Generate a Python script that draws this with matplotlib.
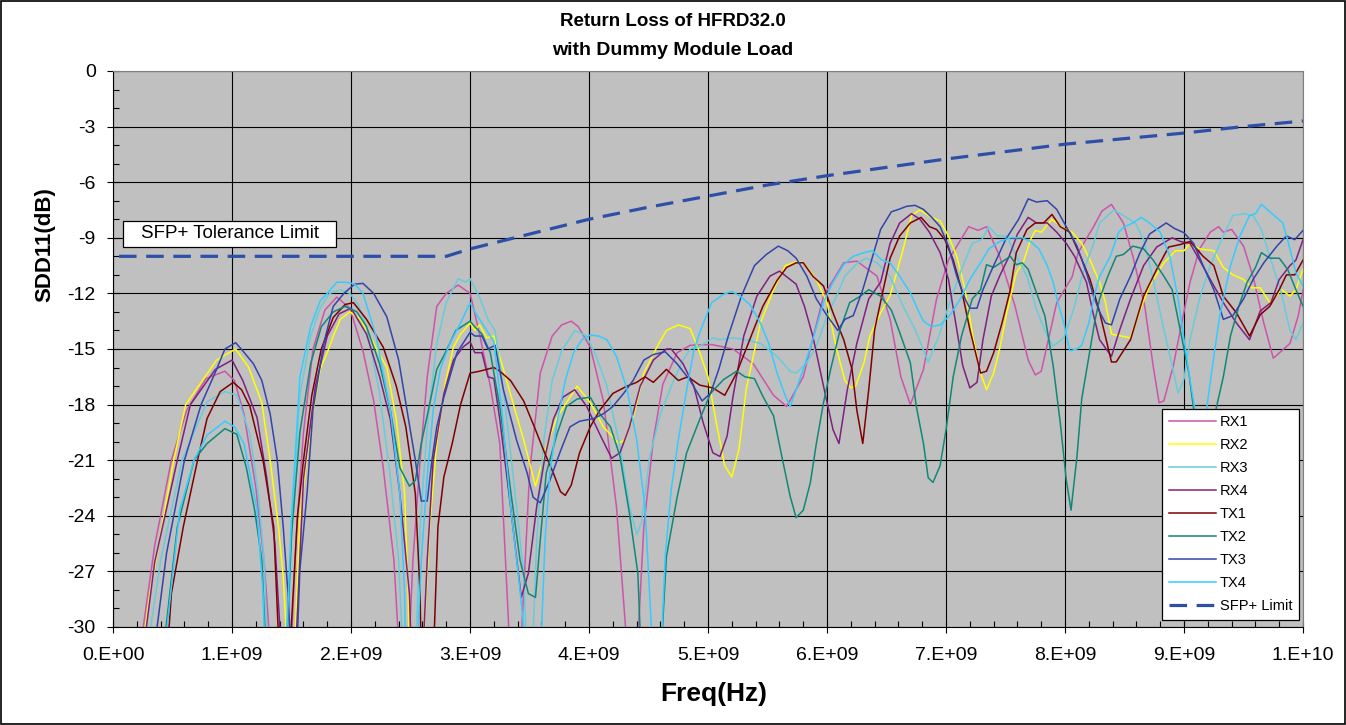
import numpy as np
import matplotlib.pyplot as plt
from matplotlib.patches import Rectangle
from matplotlib.ticker import MultipleLocator, FuncFormatter

plt.rcParams['font.family'] = ['Liberation Sans', 'DejaVu Sans']
plt.rcParams['axes.unicode_minus'] = False

# frequencies in GHz, return loss in dB (values below -30 run off the axis)
rx1_f = [0.21, 0.35, 0.49, 0.62, 0.78, 0.94, 1.02, 1.1, 1.2, 1.27, 1.33,
         1.49, 1.54, 1.6, 1.68, 1.78, 1.88, 1.99, 2.10, 2.19, 2.27, 2.36, 2.41,
         2.48, 2.52, 2.58, 2.64, 2.72, 2.80, 2.90, 3.0, 3.08, 3.17, 3.25, 3.34,
         3.42, 3.50, 3.59, 3.69, 3.77, 3.85, 3.91, 4.01, 4.12, 4.23, 4.33, 4.40, 4.46, 4.54,
         4.62, 4.74, 4.85, 5.03, 5.21, 5.38, 5.55, 5.66, 5.80, 5.97, 6.14, 6.25, 6.42, 6.53,
         6.62, 6.70, 6.81, 6.92, 7.02, 7.19, 7.27, 7.34, 7.45, 7.58, 7.69, 7.75, 7.80, 7.93,
         8.06, 8.11, 8.24, 8.31, 8.39, 8.49, 8.57, 8.67, 8.74, 8.79, 8.83, 8.91, 8.98, 9.05,
         9.13, 9.22, 9.29, 9.33, 9.40, 9.50, 9.58, 9.67, 9.75, 9.89, 9.96, 10.0]
rx1_db = [-32, -25.6, -21, -18.3, -16.6, -16.2, -16.7, -18.5, -22.5, -26.5, -32,
          -32, -25, -19.5, -15, -12.9, -12.2, -12.8, -15.1, -17.8, -21.4, -26.4, -32,
          -32, -26.4, -21, -16.5, -12.7, -12.0, -11.55, -12.0, -14.2, -17.0, -20.1, -32,
          -32, -21.7, -16.3, -14.3, -13.7, -13.5, -13.8, -14.9, -17.8, -23.5, -32, -32, -24.6, -19.9,
          -16.9, -15.2, -14.8, -14.76, -15.0, -15.8, -17.5, -18.1, -16.5, -12.15, -10.35, -10.26, -11.07, -13.4,
          -16.5, -18.0, -16.1, -12.3, -10.2, -8.4, -8.6, -8.4, -10.0, -12.7, -15.6, -16.4, -16.2, -12.5,
          -11.1, -9.8, -8.4, -7.56, -7.2, -8.2, -10.0, -12.7, -15.9, -17.9, -17.8, -15.9, -13.6, -11.4,
          -9.6, -8.7, -8.4, -8.7, -8.55, -9.45, -11.1, -13.6, -15.5, -14.7, -13.2, -11.8]

rx2_f = [0.23, 0.31, 0.51, 0.61, 0.73, 0.87, 1.03, 1.14, 1.25, 1.32, 1.39, 1.43, 1.47,
         1.52, 1.57, 1.66, 1.74, 1.80, 1.85, 1.91, 1.99, 2.08, 2.19, 2.30, 2.38, 2.45, 2.48, 2.49,
         2.60, 2.66, 2.72, 2.79, 2.86, 2.92, 3.0, 3.04, 3.08, 3.14, 3.2, 3.28, 3.45, 3.55, 3.64,
         3.73, 3.90, 4.01, 4.12, 4.25, 4.30, 4.37, 4.46, 4.57, 4.65, 4.75, 4.85, 4.93, 5.0, 5.07,
         5.14, 5.2, 5.26, 5.32, 5.44, 5.55, 5.65, 5.74, 5.80, 5.91, 6.0, 6.08, 6.15, 6.2, 6.24,
         6.31, 6.36, 6.45, 6.53, 6.58, 6.64, 6.71, 6.78, 6.85, 6.95, 7.02, 7.09, 7.16, 7.23, 7.29,
         7.34, 7.40, 7.45, 7.51, 7.59, 7.65, 7.71, 7.75, 7.80, 7.89, 7.99, 8.06, 8.14, 8.21, 8.29,
         8.34, 8.39, 8.55, 8.63, 8.71, 8.83, 8.93, 9.0, 9.05, 9.13, 9.25, 9.33, 9.41, 9.50, 9.57,
         9.64, 9.72, 9.82, 9.89, 9.94, 10.0]
rx2_db = [-32, -28.2, -21, -18, -16.9, -15.6, -15.0, -16.0, -17.9, -21, -24.6, -27.3, -32,
          -32, -24.1, -19.2, -16.1, -15.2, -14.3, -13.4, -13.0, -13.4, -14.7, -16.0, -18.8, -22.8, -28.2, -32,
          -32, -24.6, -20.1, -16.9, -14.9, -14.2, -13.6, -14.0, -13.7, -14.4, -14.3, -16.1, -19.9, -22.4, -20.3,
          -18.7, -17.0, -17.9, -19.2, -20.1, -19.9, -18.7, -16.3, -14.9, -14.0, -13.7, -13.9, -15.2, -16.5, -19.0,
          -21.3, -21.9, -20.4, -17.2, -13.6, -11.8, -10.5, -10.3, -10.35, -11.25, -12.5, -15.0, -16.7, -17.1, -17.0,
          -15.75, -14.3, -13.05, -12.1, -11.0, -9.6, -7.8, -7.5, -7.8, -8.1, -8.9, -10.0, -11.8, -14.5, -16.3,
          -17.2, -16.3, -15.0, -13.05, -10.9, -10.3, -9.1, -8.6, -8.7, -8.0, -8.5, -8.7, -9.3, -10.2, -11.4,
          -12.5, -14.2, -14.4, -12.9, -11.6, -10.35, -9.7, -9.7, -9.3, -9.6, -9.7, -10.6, -11.0, -11.25, -11.7,
          -11.7, -12.5, -11.8, -12.15, -11.8, -10.7]

rx3_f = [0.27, 0.4, 0.58, 0.79, 0.94, 1.04, 1.15, 1.22, 1.27, 1.30,
         1.46, 1.5, 1.57, 1.66, 1.74, 1.82, 1.91, 1.99, 2.06, 2.13, 2.24, 2.33, 2.40, 2.44,
         2.54, 2.58, 2.64, 2.72, 2.80, 2.90, 2.96, 3.0, 3.08, 3.15, 3.21, 3.28, 3.36, 3.45, 3.48,
         3.52, 3.56, 3.62, 3.69, 3.77, 3.88, 3.98, 4.06, 4.15, 4.26, 4.34, 4.40, 4.44, 4.51, 4.60,
         4.71, 4.79, 4.85, 4.93, 5.04, 5.1, 5.21, 5.32, 5.44, 5.58, 5.69, 5.74, 5.83, 5.91, 6.0,
         6.08, 6.15, 6.25, 6.33, 6.42, 6.53, 6.64, 6.74, 6.85, 6.94, 7.03, 7.13, 7.22, 7.30, 7.36,
         7.43, 7.51, 7.59, 7.68, 7.76, 7.85, 7.90, 7.99, 8.07, 8.15, 8.24, 8.29, 8.41, 8.49, 8.59,
         8.66, 8.74, 8.83, 8.90, 8.95, 9.0, 9.05, 9.13, 9.22, 9.33, 9.41, 9.50, 9.58, 9.65, 9.72,
         9.81, 9.89, 9.94, 10.0]
rx3_db = [-32, -26.4, -21, -17.85, -17.3, -17.5, -19.6, -22.8, -26.4, -32,
          -32, -25, -17.5, -14.3, -12.8, -12.0, -11.8, -12.0, -12.6, -13.8, -17.4, -21.9, -26.4, -32,
          -32, -24.6, -19.2, -14.7, -12.5, -11.2, -11.4, -11.2, -12.2, -13.4, -14.0, -17.2, -21.7, -27.1, -32,
          -32, -25.3, -19.9, -16.7, -15.1, -14.0, -14.3, -15.4, -17.0, -20.3, -23.5, -25.0, -24.4, -20.8, -18.5,
          -16.7, -15.6, -15.0, -14.85, -14.4, -14.5, -14.4, -14.5, -14.7, -15.4, -16.2, -16.3, -15.75, -14.85, -13.2,
          -12.15, -11.07, -10.4, -10.1, -10.35, -11.1, -12.7, -13.95, -15.7, -14.3, -12.5, -10.7, -9.3, -9.1, -8.4,
          -8.9, -8.9, -10.0, -11.07, -12.9, -14.3, -14.85, -14.4, -12.9, -10.9, -9.3, -8.2, -7.5, -7.8, -8.2,
          -9.1, -11.25, -13.95, -15.9, -17.4, -16.6, -14.5, -12.3, -10.5, -8.9, -7.8, -7.7, -7.8, -8.55, -10.0,
          -11.8, -14.0, -14.5, -13.6]

rx4_f = [0.24, 0.35, 0.54, 0.65, 0.86, 1.0, 1.09, 1.21, 1.29, 1.36, 1.42,
         1.53, 1.6, 1.7, 1.8, 1.9, 2.0, 2.13, 2.24, 2.33, 2.41, 2.49, 2.51,
         2.60, 2.64, 2.69, 2.78, 2.86, 2.94, 3.0, 3.04, 3.10, 3.15, 3.2, 3.25, 3.34, 3.43, 3.49,
         3.56, 3.63, 3.70, 3.78, 3.88, 3.98, 4.09, 4.19, 4.26, 4.34, 4.43, 4.54, 4.65, 4.69, 4.79,
         4.88, 4.96, 5.04, 5.1, 5.16, 5.21, 5.30, 5.41, 5.52, 5.60, 5.69, 5.74, 5.81, 5.88, 5.97,
         6.05, 6.10, 6.17, 6.25, 6.35, 6.45, 6.53, 6.61, 6.71, 6.78, 6.86, 6.95, 7.02, 7.09, 7.14,
         7.20, 7.26, 7.31, 7.38, 7.45, 7.53, 7.60, 7.69, 7.76, 7.85, 7.93, 8.01, 8.08, 8.18, 8.24,
         8.29, 8.39, 8.46, 8.55, 8.66, 8.77, 8.90, 8.97, 9.05, 9.13, 9.22, 9.33, 9.44, 9.55, 9.64,
         9.73, 9.80, 9.89, 9.94, 10.0]
rx4_db = [-32, -26.5, -21, -18, -16.1, -15.6, -16.7, -18.7, -21.9, -25.5, -32,
          -32, -22, -17, -14.3, -13.1, -12.8, -14.2, -16.5, -18.8, -22.8, -28.2, -32,
          -32, -26.4, -21, -17.4, -15.6, -14.9, -14.6, -15.2, -15.2, -16.5, -16.6, -18.8, -23.5, -28.4, -27.1,
          -23.5, -20.8, -18.8, -17.6, -17.2, -18.1, -19.6, -20.9, -20.6, -19.2, -17.0, -15.6, -15.0, -15.0, -15.8,
          -17.0, -19.0, -20.6, -20.8, -19.7, -17.55, -14.3, -12.15, -11.07, -10.8, -11.25, -11.5, -12.7, -14.3, -17.0,
          -19.35, -20.1, -17.2, -14.7, -12.3, -11.4, -9.3, -8.2, -7.7, -8.0, -8.7, -9.8, -11.25, -13.95, -15.9,
          -17.1, -16.8, -14.5, -12.15, -11.07, -10.0, -8.8, -7.9, -8.2, -8.2, -8.7, -9.3, -10.0, -11.4, -13.2,
          -14.5, -15.4, -13.95, -12.3, -10.5, -9.5, -9.0, -9.2, -9.3, -10.2, -11.25, -12.5, -13.6, -14.5, -12.95,
          -12.5, -11.25, -10.5, -10.2, -9.1]

tx1_f = [0.45, 0.49, 0.59, 0.71, 0.79, 0.9, 1.01, 1.08, 1.15, 1.26, 1.35, 1.40,
         1.48, 1.55, 1.6, 1.67, 1.75, 1.85, 1.95, 2.02, 2.13, 2.27, 2.38, 2.46, 2.54, 2.58, 2.59,
         2.69, 2.73, 2.78, 2.85, 2.92, 3.0, 3.08, 3.20, 3.25, 3.34, 3.45, 3.54, 3.62, 3.70, 3.76,
         3.80, 3.85, 3.92, 4.01, 4.09, 4.20, 4.32, 4.40, 4.47, 4.54, 4.65, 4.75, 4.83, 4.93, 5.04,
         5.14, 5.24, 5.35, 5.46, 5.58, 5.66, 5.74, 5.80, 5.88, 5.97, 6.05, 6.14, 6.21, 6.25, 6.30,
         6.35, 6.40, 6.46, 6.53, 6.61, 6.70, 6.79, 6.86, 6.92, 6.99, 7.06, 7.13, 7.20, 7.29, 7.34,
         7.40, 7.47, 7.54, 7.59, 7.68, 7.75, 7.82, 7.89, 7.96, 8.04, 8.13, 8.21, 8.29, 8.39, 8.43,
         8.55, 8.66, 8.77, 8.87, 8.97, 9.05, 9.16, 9.25, 9.33, 9.44, 9.55, 9.64, 9.72, 9.80, 9.86,
         9.93, 10.0]
tx1_db = [-32, -28.2, -24.6, -21, -18.75, -17.3, -16.8, -17.2, -18.1, -21, -24.6, -32,
          -32, -24, -21, -17.5, -15.0, -13.3, -12.6, -12.5, -13.4, -14.9, -17.0, -19.2, -22.8, -28.2, -32,
          -32, -24.6, -21.9, -20.1, -18.0, -16.3, -16.2, -16.0, -16.2, -16.7, -17.8, -19.2, -20.5, -21.7, -22.7,
          -22.9, -22.35, -20.6, -19.2, -18.3, -17.4, -17.0, -16.8, -16.5, -16.8, -16.1, -16.7, -16.5, -16.95, -17.1,
          -17.5, -16.3, -14.5, -12.7, -11.3, -10.6, -10.35, -10.35, -11.07, -11.6, -13.05, -14.5, -16.1, -18.3, -20.1,
          -17.2, -13.95, -12.15, -10.1, -8.9, -8.2, -7.9, -8.4, -8.55, -9.1, -10.2, -11.8, -13.95, -16.3, -16.2,
          -15.2, -13.6, -11.8, -9.8, -8.55, -8.2, -8.2, -7.74, -8.4, -8.7, -10.0, -11.25, -13.0, -15.7, -15.7,
          -14.5, -12.15, -10.7, -9.5, -9.36, -9.2, -10.0, -10.5, -12.15, -13.05, -14.3, -13.15, -12.7, -11.8, -11.0,
          -11.0, -10.2]

tx2_f = [0.41, 0.54, 0.68, 0.79, 0.94, 1.04, 1.12, 1.19, 1.25, 1.29,
         1.45, 1.5, 1.57, 1.66, 1.75, 1.85, 1.95, 2.05, 2.13, 2.24, 2.33, 2.41, 2.49, 2.54, 2.59,
         2.65, 2.72, 2.80, 2.88, 3.0, 3.04, 3.10, 3.17, 3.25, 3.34, 3.42, 3.49, 3.55, 3.59, 3.64,
         3.73, 3.81, 3.90, 4.01, 4.09, 4.18, 4.26, 4.34, 4.41, 4.44, 4.60, 4.65, 4.74, 4.82, 4.93,
         5.02, 5.13, 5.24, 5.31, 5.39, 5.46, 5.55, 5.62, 5.69, 5.74, 5.80, 5.86, 5.91, 5.97, 6.03,
         6.11, 6.19, 6.28, 6.35, 6.45, 6.54, 6.61, 6.70, 6.75, 6.81, 6.85, 6.89, 6.95, 7.0, 7.06,
         7.13, 7.22, 7.29, 7.34, 7.40, 7.47, 7.54, 7.59, 7.64, 7.69, 7.76, 7.83, 7.90, 7.96, 8.01,
         8.05, 8.10, 8.14, 8.20, 8.25, 8.29, 8.36, 8.43, 8.49, 8.57, 8.66, 8.74, 8.83, 8.90, 8.95,
         8.99, 9.04, 9.08, 9.17, 9.27, 9.33, 9.39, 9.46, 9.53, 9.60, 9.65, 9.72, 9.80, 9.87, 9.94,
         10.0]
tx2_db = [-32, -24.6, -21, -20.1, -19.3, -19.6, -21.4, -23.7, -26.4, -32,
          -32, -25, -19.5, -15.8, -13.8, -13.0, -12.7, -13.0, -13.8, -15.8, -18.3, -21.4, -22.4, -22.1, -20.1,
          -18.3, -16.1, -15.1, -14.0, -13.5, -13.8, -14.2, -15.2, -18.1, -22.6, -26.4, -28.2, -28.4, -25.3, -21.7,
          -19.6, -18.1, -17.7, -17.6, -18.5, -19.2, -20.8, -23.9, -27.1, -32, -32, -26.2, -23.0, -20.6, -18.8,
          -17.4, -16.65, -16.2, -16.5, -16.6, -17.55, -18.6, -20.8, -22.95, -24.1, -23.7, -22.2, -20.1, -17.9, -16.1,
          -13.95, -12.5, -12.15, -11.8, -12.15, -12.9, -14.1, -15.75, -18.1, -20.1, -21.95, -22.2, -21.3, -19.35, -16.5,
          -14.3, -12.3, -11.8, -10.45, -10.6, -10.3, -10.0, -10.45, -10.35, -10.7, -11.97, -13.2, -15.9, -19.0, -22.05,
          -23.7, -20.8, -17.7, -15.4, -13.5, -12.3, -11.07, -10.0, -9.9, -9.45, -9.6, -10.2, -11.07, -11.8, -13.4,
          -14.7, -16.3, -18.2, -22.5, -18.2, -16.5, -14.3, -12.7, -11.4, -10.6, -9.8, -10.1, -10.1, -10.7, -11.8,
          -12.7]

tx3_f = [0.33, 0.45, 0.6, 0.74, 0.87, 0.94, 1.03, 1.09, 1.18, 1.25, 1.32, 1.38, 1.43, 1.47, 1.50,
         1.54, 1.57, 1.63, 1.68, 1.77, 1.85, 1.94, 2.03, 2.10, 2.19, 2.30, 2.40, 2.47, 2.54, 2.59,
         2.64, 2.68, 2.72, 2.78, 2.83, 2.89, 2.94, 3.0, 3.04, 3.10, 3.15, 3.21, 3.28, 3.39, 3.48,
         3.53, 3.59, 3.67, 3.76, 3.84, 3.92, 4.04, 4.12, 4.20, 4.29, 4.37, 4.46, 4.54, 4.64, 4.74,
         4.85, 4.95, 5.02, 5.09, 5.17, 5.28, 5.39, 5.49, 5.59, 5.67, 5.74, 5.83, 5.91, 6.0, 6.09,
         6.15, 6.22, 6.30, 6.36, 6.45, 6.54, 6.60, 6.67, 6.74, 6.81, 6.88, 6.95, 7.02, 7.09, 7.16,
         7.20, 7.26, 7.31, 7.40, 7.50, 7.61, 7.69, 7.76, 7.85, 7.93, 8.01, 8.10, 8.18, 8.24, 8.29,
         8.34, 8.39, 8.46, 8.55, 8.63, 8.71, 8.85, 8.92, 9.0, 9.08, 9.16, 9.25, 9.33, 9.41, 9.50,
         9.58, 9.67, 9.78, 9.86, 9.93, 10.0]
tx3_db = [-32, -26, -21, -18, -16.1, -15.0, -14.66, -15.1, -15.8, -16.7, -18.5, -21, -24.6, -28.2, -32,
          -32, -26.9, -22.8, -18.3, -14.7, -12.7, -12.0, -11.5, -11.46, -12.0, -13.26, -15.6, -18.3, -21.0, -23.2,
          -23.2, -21, -19.2, -17.6, -16.5, -15.2, -14.7, -14.1, -14.3, -14.3, -15.0, -14.8, -17.2, -19.9, -21.7,
          -23.0, -23.3, -22.1, -20.5, -19.2, -18.9, -18.75, -18.5, -18.1, -17.4, -16.7, -15.6, -15.3, -15.15, -15.8,
          -16.7, -17.8, -17.4, -16.1, -14.3, -12.15, -10.5, -9.9, -9.45, -9.7, -10.1, -11.07, -12.3, -13.2, -14.0,
          -13.4, -13.2, -11.8, -10.5, -8.55, -7.6, -7.47, -7.3, -7.25, -7.47, -7.9, -8.4, -9.45, -11.07, -12.3,
          -12.8, -12.8, -11.8, -10.5, -9.1, -8.0, -6.9, -7.07, -7.0, -7.47, -8.4, -9.45, -10.9, -12.15, -13.0,
          -13.6, -13.7, -12.3, -11.07, -9.8, -8.8, -8.2, -8.5, -8.73, -9.3, -10.5, -11.8, -13.4, -13.2, -12.3,
          -11.25, -10.35, -9.45, -8.9, -9.1, -8.6]

tx4_f = [0.42, 0.56, 0.68, 0.79, 0.94, 1.02, 1.1, 1.21, 1.26, 1.28,
         1.45, 1.5, 1.57, 1.66, 1.74, 1.80, 1.88, 1.96, 2.03, 2.10, 2.21, 2.33, 2.41, 2.45, 2.46,
         2.55, 2.59, 2.64, 2.69, 2.75, 2.83, 2.92, 3.0, 3.05, 3.12, 3.20, 3.27, 3.34, 3.42, 3.48,
         3.59, 3.63, 3.67, 3.73, 3.80, 3.87, 3.94, 4.01, 4.08, 4.15, 4.23, 4.32, 4.40, 4.47, 4.54,
         4.60, 4.64, 4.69, 4.75, 4.82, 4.88, 4.93, 5.03, 5.13, 5.2, 5.27, 5.35, 5.44, 5.51, 5.58,
         5.65, 5.69, 5.74, 5.81, 5.88, 5.97, 6.05, 6.14, 6.22, 6.31, 6.38, 6.46, 6.53, 6.61, 6.70,
         6.75, 6.81, 6.88, 6.95, 7.03, 7.12, 7.20, 7.29, 7.36, 7.45, 7.54, 7.64, 7.71, 7.78, 7.85,
         7.90, 7.94, 7.99, 8.04, 8.10, 8.14, 8.20, 8.25, 8.29, 8.38, 8.45, 8.50, 8.57, 8.64, 8.71,
         8.80, 8.88, 8.95, 9.0, 9.05, 9.09, 9.14, 9.19, 9.25, 9.30, 9.39, 9.47, 9.55, 9.60, 9.65,
         9.73, 9.83, 9.89, 9.94, 10.0]
tx4_db = [-32, -23.7, -21, -19.65, -18.9, -19.2, -20.1, -23.7, -28.2, -32,
          -32, -24, -16.5, -13.8, -12.4, -12.0, -11.4, -11.4, -11.5, -12.0, -14.3, -18.3, -22.8, -28.2, -32,
          -32, -26.4, -21.9, -18.3, -16.1, -14.7, -13.6, -12.5, -13.1, -13.8, -14.6, -18.5, -23.5, -28.0, -32,
          -32, -25.3, -21.7, -19.0, -16.7, -15.2, -14.5, -14.25, -14.3, -14.5, -15.4, -17.2, -19.9, -23.5, -32,
          -32, -26.2, -22.6, -19.9, -17.2, -15.1, -14.1, -12.5, -12.05, -11.9, -12.15, -12.6, -13.6, -14.7, -16.3,
          -17.55, -18.1, -17.2, -15.9, -14.5, -12.5, -11.4, -10.45, -10.0, -9.8, -9.7, -10.2, -10.35, -11.07, -11.97,
          -12.7, -13.5, -13.8, -13.7, -13.2, -12.3, -11.25, -10.35, -9.6, -9.2, -9.0, -9.0, -9.2, -9.6, -10.5,
          -11.4, -12.5, -13.6, -15.1, -15.0, -14.8, -13.6, -12.0, -11.1, -10.0, -8.7, -8.4, -8.2, -7.9, -8.2,
          -8.7, -10.0, -12.3, -14.5, -16.65, -18.2, -21.0, -18.2, -15.4, -13.2, -10.5, -8.9, -7.8, -7.7, -7.2,
          -7.65, -8.2, -9.6, -10.9, -11.6]

lim_f = [0.05, 2.8, 3.0, 3.5, 4.0, 4.5, 5.0, 5.5, 6.0, 6.5, 7.0, 7.5, 8.0, 8.5, 9.0, 9.5, 10.0]
lim_db = [-10, -10, -9.6, -8.8, -8.0, -7.35, -6.75, -6.15, -5.65, -5.2, -4.75, -4.35, -3.95,
          -3.65, -3.35, -3.0, -2.7]

names = ['RX1', 'RX2', 'RX3', 'RX4', 'TX1', 'TX2', 'TX3', 'TX4']
colors = ['#CC55AA', '#FFFF00', '#66CCDD', '#802080', '#800000', '#108878', '#3344AA', '#33CCFF']
series = [(rx1_f, rx1_db), (rx2_f, rx2_db), (rx3_f, rx3_db), (rx4_f, rx4_db),
          (tx1_f, tx1_db), (tx2_f, tx2_db), (tx3_f, tx3_db), (tx4_f, tx4_db)]

fig = plt.figure(figsize=(13.46, 7.25), dpi=100)
ax = fig.add_axes([0.0840, 0.1352, 0.8841, 0.7669])
ax.set_facecolor('#C0C0C0')

for (f, db), name, c in zip(series, names, colors):
    ax.plot(np.array(f) * 1e9, db, color=c, lw=1.1, label=name)
ax.plot(np.array(lim_f) * 1e9, lim_db, color='#2E4FA8', lw=2.3, dashes=(5.5, 3), label='SFP+ Limit')

ax.set_xlim(0, 1e10)
ax.set_ylim(-30, 0)
ax.xaxis.set_major_locator(MultipleLocator(1e9))
ax.xaxis.set_minor_locator(MultipleLocator(2e8))
ax.yaxis.set_major_locator(MultipleLocator(3))
ax.yaxis.set_minor_locator(MultipleLocator(1))


def sci(v, pos):
    if v < 1:
        return '0.E+00'
    e = int(np.floor(np.log10(v) + 1e-9))
    return '%d.E+%02d' % (round(v / 10 ** e), e)


ax.xaxis.set_major_formatter(FuncFormatter(sci))
ax.grid(True, which='major', color='black', lw=0.8)
ax.set_axisbelow(True)
ax.tick_params(which='major', direction='inout', length=9, width=0.8, labelsize=14)
ax.tick_params(which='minor', direction='in', length=4, width=0.8)
ax.tick_params(axis='x', which='major', pad=10)
ax.tick_params(axis='y', which='major', pad=8)
for s in ['top', 'right']:
    ax.spines[s].set_color('#808080')
for s in ['left', 'bottom']:
    ax.spines[s].set_color('black')

# label box for the limit line
ax.add_patch(Rectangle((0.0084, 0.6835), 0.179, 0.0467, transform=ax.transAxes,
                       fc='white', ec='black', lw=0.9, zorder=4))
ax.text(0.0979, 0.707, 'SFP+ Tolerance Limit', transform=ax.transAxes, fontsize=13.5,
        ha='center', va='center', zorder=5)

leg = ax.legend(loc='lower right', bbox_to_anchor=(0.9966, 0.0126), fontsize=10.5,
                handlelength=3.2, labelspacing=0.62, borderpad=0.45, handletextpad=0.3,
                fancybox=False, framealpha=1, edgecolor='black', borderaxespad=0)
leg.get_frame().set_linewidth(0.9)

fig.text(0.5, 0.9697, 'Return Loss of HFRD32.0', ha='center', va='center', fontsize=13.5, fontweight='bold')
fig.text(0.5, 0.931, 'with Dummy Module Load', ha='center', va='center', fontsize=14, fontweight='bold')
fig.text(0.0334, 0.662, 'SDD11(dB)', ha='center', va='center', rotation=90, fontsize=16, fontweight='bold')
fig.text(0.530, 0.0428, 'Freq(Hz)', ha='center', va='center', fontsize=19, fontweight='bold')

fig.patches.append(Rectangle((0.001, 0.002), 0.998, 0.996, transform=fig.transFigure,
                             fill=False, ec='black', lw=1.2))

fig.savefig('out.png', dpi=100)
